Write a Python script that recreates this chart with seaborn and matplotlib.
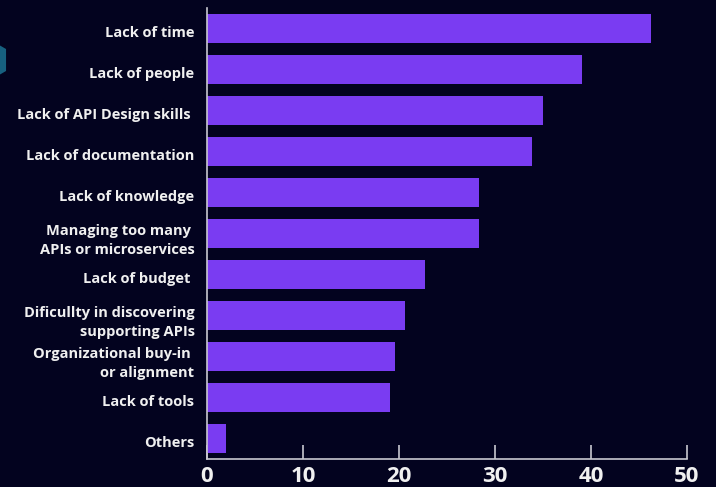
import matplotlib
matplotlib.use("Agg")
import matplotlib.pyplot as plt
import matplotlib.patches as mpatches
import matplotlib.transforms as mtransforms
import seaborn as sns
import pandas as pd

# challenges and share of respondents
challenges = [
    "Lack of time",
    "Lack of people",
    "Lack of API Design skills ",
    "Lack of documentation",
    "Lack of knowledge",
    "Managing too many \nAPIs or microservices",
    "Lack of budget ",
    "Dificullty in discovering\nsupporting APIs",
    "Organizational buy-in \nor alignment",
    "Lack of tools",
    "Others",
]
values = [46.3, 39.1, 35.0, 33.9, 28.3, 28.3, 22.7, 20.6, 19.6, 19.1, 2.0]
xticks = [0, 10, 20, 30, 40, 50]

bg = "#03031f"
bar_color = "#7a3cf2"
fg = "#f0f0f0"

df = pd.DataFrame({"challenge": challenges, "value": values})

sns.set_style("white")
plt.rcParams["font.family"] = ["Open Sans", "DejaVu Sans"]

fig = plt.figure(figsize=(7.16, 4.87), dpi=100, facecolor=bg)
ax = fig.add_axes([207 / 716, 1 - 459 / 487, 480 / 716, 451 / 487])
ax.set_facecolor(bg)

sns.barplot(data=df, x="value", y="challenge", color=bar_color,
            saturation=1, width=0.7, linewidth=0, ax=ax)

ax.set_xlim(0, 50)
ax.set_xticks(xticks)
ax.set_xlabel("")
ax.set_ylabel("")

for side in ["top", "right"]:
    ax.spines[side].set_visible(False)
for side in ["left", "bottom"]:
    ax.spines[side].set_color("#c8c8d0")
    ax.spines[side].set_linewidth(1.2)

ax.tick_params(axis="x", direction="in", length=10, width=1.2, color="#c8c8d0",
               pad=5, labelsize=16, labelcolor=fg, bottom=True)
ax.tick_params(axis="y", length=0, pad=9, labelsize=10.5, labelcolor=fg)
for lab in ax.get_xticklabels():
    lab.set_fontweight("bold")

# labels sit a few pixels below the bar centres in the original
shift = mtransforms.ScaledTranslation(0, -3 / 100, fig.dpi_scale_trans)
for lab in ax.get_yticklabels():
    lab.set_fontweight("bold")
    lab.set_linespacing(1.45)
    lab.set_transform(lab.get_transform() + shift)

# teal hexagon peeking in at the left edge
hexagon = mpatches.RegularPolygon((-13, 487 - 60), numVertices=6, radius=22,
                                  orientation=0, transform=None,
                                  facecolor="#17607f", edgecolor="none")
fig.patches.append(hexagon)

fig.savefig("out.png", dpi=100, facecolor=bg)
